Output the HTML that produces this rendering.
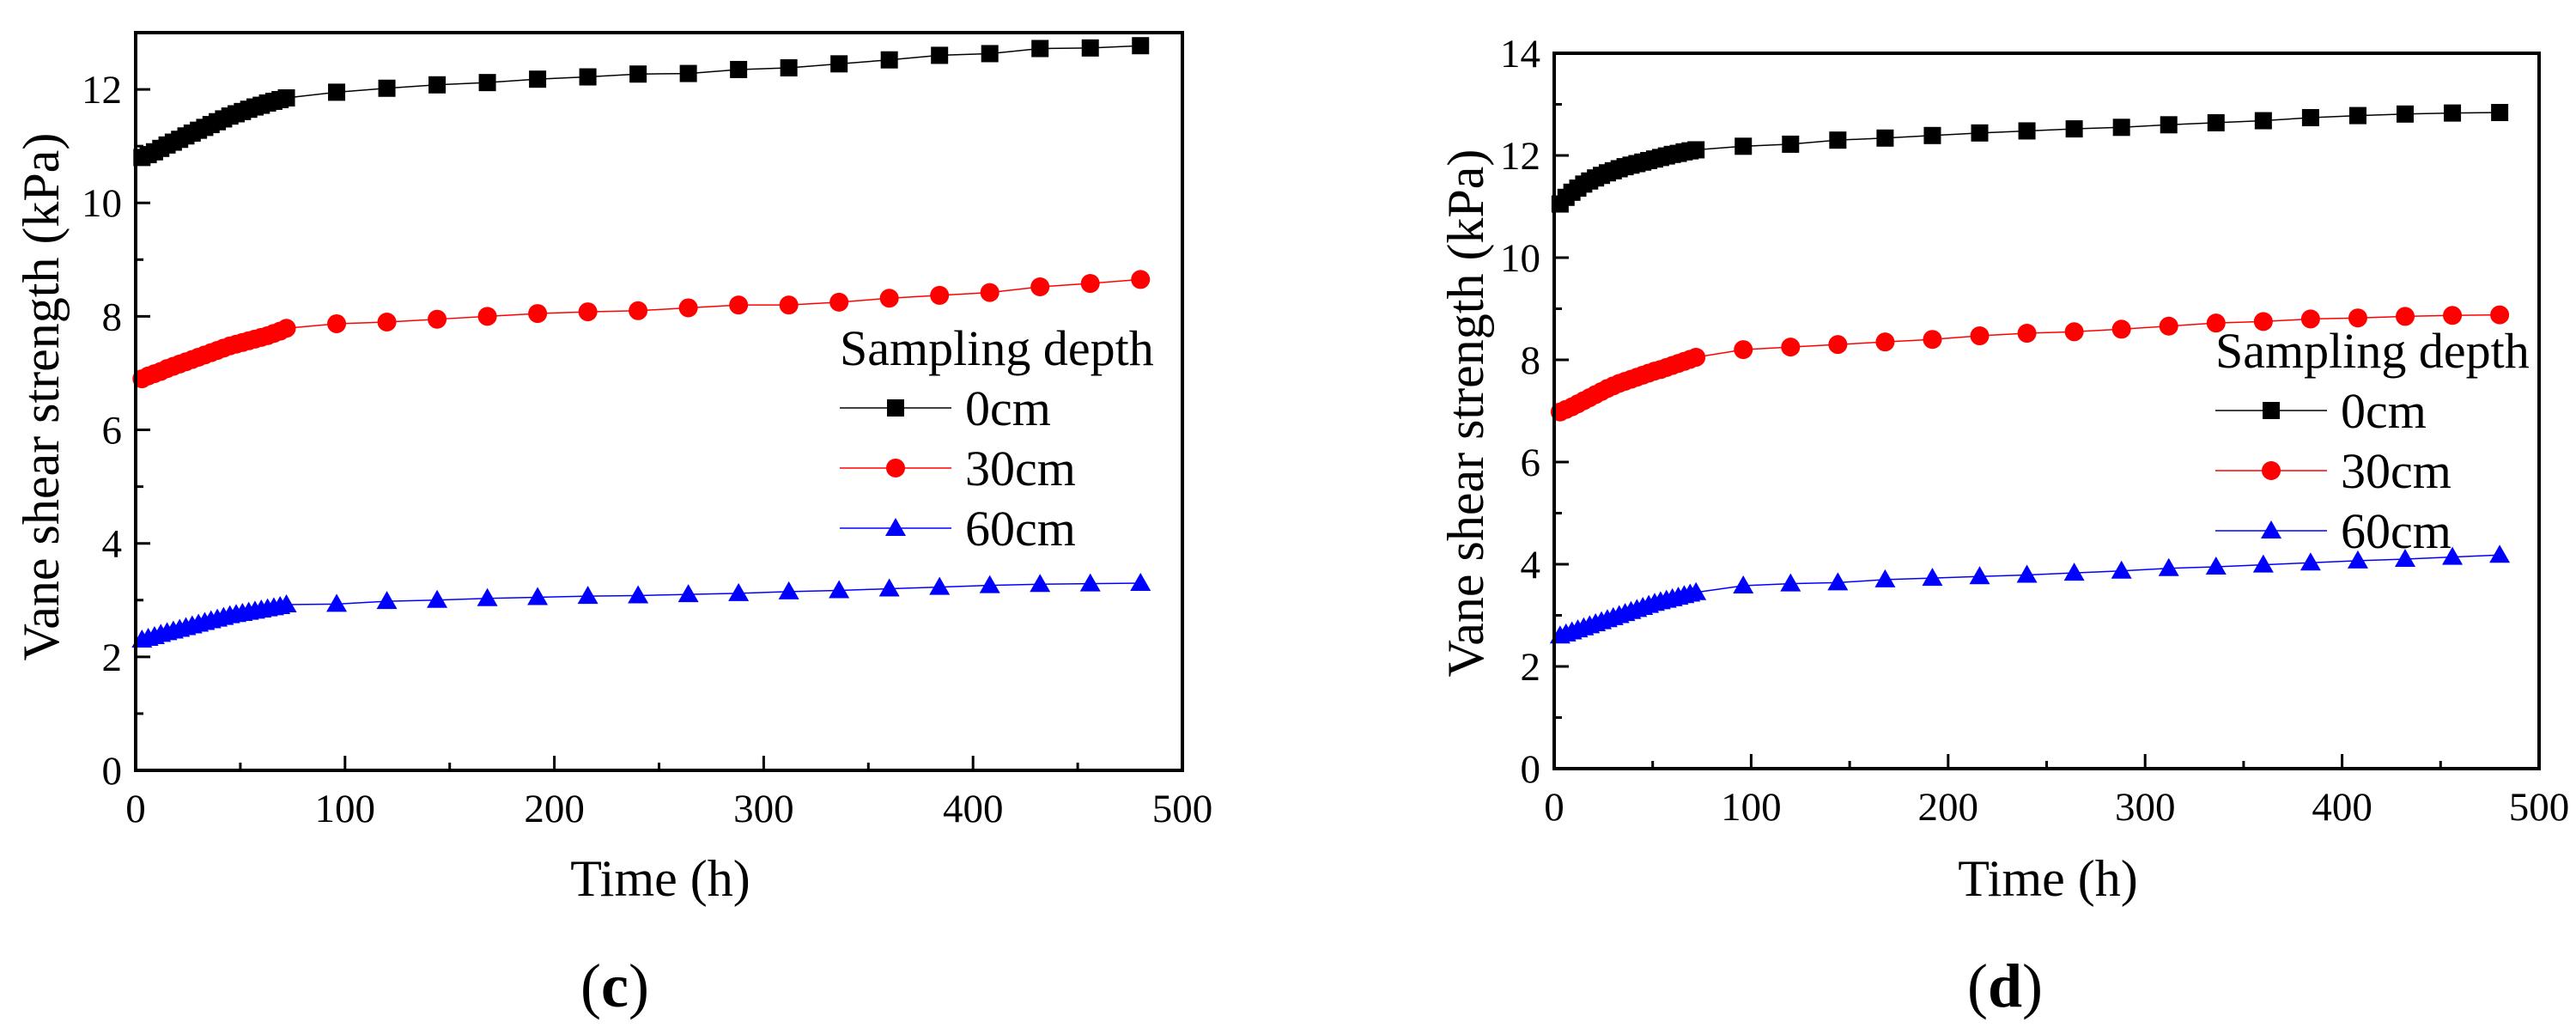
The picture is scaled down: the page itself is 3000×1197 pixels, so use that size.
<!DOCTYPE html>
<html><head><meta charset="utf-8"><style>
html,body{margin:0;padding:0;background:#fff;}
svg{display:block;}
svg text{font-family:"Liberation Serif","Noto Serif CJK SC","DejaVu Serif",serif;}
</style></head><body>
<svg id="fig" width="3000" height="1197" viewBox="0 0 3000 1197" xmlns="http://www.w3.org/2000/svg"></svg>
<script>
const seriesNames = ['0cm','30cm','60cm'];
const timeDense = [3,6,9,12,15,18,21,24,27,30,33,36,39,42,45,48,51,54,57,60,63,66,69,72];
const timeSparse = [96,120,144,168,192,216,240,264,288,312,336,360,384,408,432,456,480];
const xTicks = [0,100,200,300,400,500];
const yTicksC = [0,2,4,6,8,10,12];
const yTicksD = [0,2,4,6,8,10,12,14];

const c0 = [10.80,10.85,10.90,10.96,11.02,11.07,11.12,11.18,11.23,11.28,11.33,11.38,11.43,11.48,11.53,11.57,11.61,11.65,11.69,11.72,11.76,11.79,11.82,11.85,
 11.95,12.02,12.08,12.12,12.18,12.22,12.27,12.28,12.35,12.38,12.45,12.52,12.60,12.63,12.72,12.73,12.77];
const c30 = [6.90,6.95,6.99,7.03,7.08,7.12,7.16,7.20,7.24,7.28,7.32,7.36,7.40,7.44,7.48,7.51,7.54,7.57,7.60,7.63,7.66,7.70,7.74,7.79,
 7.87,7.90,7.95,8.00,8.05,8.08,8.10,8.15,8.20,8.20,8.25,8.32,8.37,8.42,8.52,8.58,8.65];
const c60 = [2.30,2.33,2.36,2.40,2.43,2.46,2.49,2.52,2.55,2.58,2.61,2.64,2.67,2.70,2.73,2.75,2.77,2.79,2.81,2.83,2.85,2.87,2.89,2.92,
 2.93,2.98,3.00,3.03,3.05,3.07,3.08,3.10,3.12,3.15,3.17,3.20,3.23,3.26,3.28,3.29,3.30];
const d0 = [11.05,11.18,11.28,11.36,11.44,11.50,11.56,11.61,11.66,11.70,11.74,11.78,11.81,11.84,11.87,11.90,11.93,11.96,11.99,12.02,12.04,12.07,12.09,12.11,
 12.18,12.22,12.30,12.34,12.39,12.44,12.48,12.52,12.55,12.60,12.64,12.68,12.74,12.78,12.81,12.83,12.84];
const d30 = [6.98,7.03,7.08,7.14,7.20,7.26,7.32,7.38,7.44,7.49,7.54,7.58,7.62,7.66,7.70,7.74,7.78,7.81,7.85,7.89,7.93,7.97,8.01,8.05,
 8.20,8.25,8.30,8.35,8.40,8.47,8.52,8.55,8.60,8.66,8.72,8.75,8.80,8.82,8.85,8.87,8.88];
const d60 = [2.60,2.64,2.68,2.72,2.76,2.80,2.84,2.88,2.92,2.96,3.00,3.04,3.08,3.12,3.16,3.20,3.24,3.27,3.30,3.33,3.36,3.39,3.42,3.45,
 3.58,3.62,3.64,3.70,3.73,3.76,3.79,3.83,3.87,3.92,3.95,3.99,4.03,4.07,4.10,4.14,4.18];

const NS='http://www.w3.org/2000/svg';
const svg=document.getElementById('fig');
const FF='"Liberation Serif","Noto Serif CJK SC","DejaVu Serif",serif';
function mk(tag,attrs,parent){const e=document.createElementNS(NS,tag);for(const k in attrs)e.setAttribute(k,attrs[k]);if(tag==='text')e.setAttribute('font-family',FF);(parent||svg).appendChild(e);return e;}
const colors=['#000','#f00','#00f'];

function marker(g,type,x,y,col){
  let m;
  if(type===0){m=mk('rect',{x:x-10,y:y-10,width:20,height:20,fill:col},g);}
  else if(type===1){m=mk('circle',{cx:x,cy:y,r:11,fill:col},g);}
  else {m=mk('polygon',{points:(x)+','+(y-12)+' '+(x-12)+','+(y+9)+' '+(x+12)+','+(y+9),fill:col},g);}
  
  
  return m;
}

function chart(cfg){
  const g=mk('g',{});
  
  
  const L=cfg.x0,R=cfg.x1,B=cfg.y0,T=cfg.yTop;
  const sx=v=>L+(v-0)/500*(R-L);
  const sy=v=>B-(v-0)/cfg.ymax*(B-T);
  for(let v=0;v<=500;v+=50){
    const len=(v%100===0)?17:9;
    const t=mk('line',{x1:sx(v),x2:sx(v),y1:B,y2:B-len,stroke:'#000','stroke-width':3},g);
    
    
  }
  for(let v=0;v<=cfg.ymax;v+=1){
    const len=(v%2===0)?17:9;
    const t=mk('line',{x1:L,x2:L+len,y1:sy(v),y2:sy(v),stroke:'#000','stroke-width':3},g);
    
    
  }
  xTicks.forEach(v=>{
    const t=mk('text',{x:sx(v),y:B+60,'font-size':47,'text-anchor':'middle'},g);
    t.textContent=v;
    
    
  });
  cfg.yTicks.forEach(v=>{
    const t=mk('text',{x:L-16,y:sy(v)+16,'font-size':47,'text-anchor':'end'},g);
    t.textContent=v;
    
    
  });
  const times=timeDense.concat(timeSparse);
  cfg.series.forEach((vals,si)=>{
    const sg=mk('g',{},g);
    
    
    const pts=vals.map((v,i)=>sx(times[i])+','+sy(v)).join(' ');
    const pl=mk('polyline',{points:pts,fill:'none',stroke:colors[si],'stroke-width':1.5},sg);
    
    
    vals.forEach((v,i)=>marker(sg,si,sx(times[i]),sy(v),colors[si]));
  });
  const f=mk('rect',{x:L,y:T,width:R-L,height:B-T,fill:'none',stroke:'#000','stroke-width':4},g);
  
  
  const xt=mk('text',{x:cfg.xtX,y:1043,'font-size':60,'text-anchor':'middle'},g);
  xt.textContent='Time (h)';
  
  
  const yt=mk('text',{x:0,y:0,'font-size':60,'text-anchor':'middle',transform:'translate('+(cfg.ytX+20)+','+cfg.ytY+') rotate(-90)'},g);
  yt.textContent='Vane shear strength (kPa)';
  
  
  const pt=mk('text',{x:cfg.pX,y:1172,'font-size':72,'text-anchor':'middle'},g);
  pt.innerHTML='(<tspan font-weight="bold">'+cfg.panel+'</tspan>)';
  
  
  const lg=mk('g',{},g);
  
  
  const lt=mk('text',{x:cfg.legX,y:cfg.legY+20,'font-size':58},lg);
  lt.textContent='Sampling depth';
  
  
  seriesNames.forEach((n,i)=>{
    const y=cfg.legY+70+i*70;
    const e=mk('g',{},lg);
    
    
    mk('line',{x1:cfg.legX,x2:cfg.legX+130,y1:y,y2:y,stroke:colors[i],'stroke-width':1.5},e);
    marker(e,i,cfg.legX+65,y,colors[i]);
    const t=mk('text',{x:cfg.legX+146,y:y+20,'font-size':58},e);
    t.textContent=n;
  });
}

chart({name:'chart-c',panel:'c',x0:158,x1:1377,y0:897,yTop:38,ymax:13,yTicks:yTicksC,series:[c0,c30,c60],
  xtX:769,ytX:48,ytY:462,pX:716,legX:978,legY:405});
chart({name:'chart-d',panel:'d',x0:1810,x1:2957,y0:895,yTop:62,ymax:14,yTicks:yTicksD,series:[d0,d30,d60],
  xtX:2385,ytX:1707,ytY:481,pX:2335,legX:2580,legY:408});
</script>
</body></html>
